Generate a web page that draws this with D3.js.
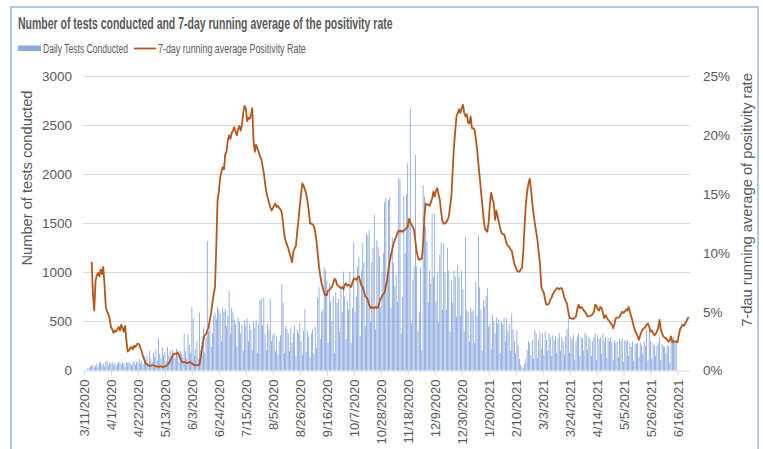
<!DOCTYPE html>
<html>
<head>
<meta charset="utf-8">
<script src="https://cdn.jsdelivr.net/npm/d3@7"></script>
<style>
  html, body { margin: 0; padding: 0; background: #ffffff; }
  svg { display: block; }
  text { font-family: "Liberation Sans", Arial, sans-serif; fill: #595959; }
</style>
</head>
<body>
<svg id="chart" width="763" height="449"></svg>
<script>
// ---------------- DATA ----------------
const startDate = "2020-03-11";
const dayCount = 472; // days 0..471 (3/11/2020 .. 6/25/2021)

const titleText = "Number of tests conducted and 7-day running average of the positivity rate";
const seriesNames = ["Daily Tests Conducted", "7-day running average Positivity Rate"];
const leftAxisTitle = "Number of tests conducted";
const rightAxisTitle = "7-dau running average of positivity rate";
const leftTicks = [0, 500, 1000, 1500, 2000, 2500, 3000];
const rightTicks = [0, 0.05, 0.10, 0.15, 0.20, 0.25];
const xTickEveryDays = 21;

// Daily tests conducted (one value per day from 3/11/2020, weekly rows)
const dailyTests = [
  0,0,0,20,30,40,50,
  60,30,50,70,40,80,90,
  60,70,40,90,100,50,80,
  70,90,60,80,50,70,90,
  80,60,90,70,40,85,75,
  90,70,50,80,100,60,90,
  85,120,70,100,60,140,110,
  150,80,200,120,90,180,140,
  210,100,330,170,120,230,160,
  190,90,240,150,200,110,210,
  180,130,220,160,90,200,170,
  140,380,200,120,370,260,180,
  650,530,150,220,300,120,590,
  210,350,440,180,330,1320,400,
  450,240,380,560,590,530,650,
  620,580,300,640,600,630,450,
  560,810,380,640,600,520,470,
  250,540,500,380,470,200,510,
  460,530,300,480,420,210,500,
  440,520,180,470,720,730,460,
  740,370,210,480,420,730,300,
  360,380,200,350,160,300,360,
  880,690,180,450,420,380,200,
  430,280,380,460,150,420,380,
  480,300,160,410,630,190,410,
  345,140,380,420,170,445,230,
  750,850,320,600,620,1050,1020,
  920,280,890,700,500,760,180,
  800,690,730,400,850,600,1010,
  760,320,700,620,1010,280,640,
  1310,600,750,1060,1160,350,1020,
  1300,1100,450,1400,1380,1430,500,
  1100,1250,1590,420,1330,1260,1160,
  650,1000,1200,1720,1760,980,1740,
  1770,640,1360,1100,860,980,700,
  1960,1950,380,750,1780,1200,1800,
  2115,1500,2675,480,920,1060,2200,
  1060,400,600,1050,210,1890,1775,
  1470,1320,700,1020,890,1600,950,
  1600,700,1010,490,1180,1310,620,
  1300,1000,620,1250,1020,400,920,
  690,1020,960,550,1080,950,560,
  1020,830,400,1365,620,600,300,
  640,600,620,280,900,560,1380,
  850,620,200,720,650,760,840,
  450,480,220,566,500,380,540,
  480,520,180,500,470,540,300,
  532,400,480,200,583,420,300,
  175,414,250,120,60,40,20,
  70,120,210,300,280,150,310,
  120,414,380,130,310,400,220,
  380,160,400,310,200,380,340,
  150,360,310,350,180,330,380,
  200,340,300,160,350,420,532,
  180,345,320,360,110,300,345,
  380,150,340,330,200,386,360,
  210,345,320,150,300,340,380,
  110,360,320,340,170,373,300,
  340,130,330,300,340,294,110,
  310,280,294,140,320,300,328,
  90,310,300,310,150,280,240,
  300,100,280,270,284,140,284,
  260,180,300,250,414,100,414,
  300,120,280,260,150,250,280,
  345,110,270,250,245,180,260,
  245,80,330,310,345,290,310,
  null,null,null,null,null,null,null,null,null,null
];

// 7-day running average positivity rate, in percent (one value per day from 3/11/2020)
const positivityRate = [
  null,null,null,null,null,null,9.25,6.5,5.1,7.6,
  8.1,8.3,8.0,8.6,8.2,8.8,7.3,5.4,5.0,4.8,
  4.4,3.7,3.5,3.2,3.4,3.3,3.5,3.7,3.4,3.9,
  3.6,3.3,3.8,2.6,1.6,1.7,1.9,2.0,1.8,2.1,
  2.0,2.2,2.3,2.2,1.9,1.6,1.2,0.9,0.6,0.5,
  0.45,0.4,0.4,0.45,0.45,0.4,0.35,0.35,0.3,0.35,
  0.35,0.3,0.3,0.35,0.4,0.5,0.6,0.8,1.0,1.3,
  1.4,1.45,1.4,1.55,1.3,1.0,0.75,0.7,0.7,0.7,
  0.65,0.65,0.7,0.7,0.6,0.5,0.45,0.45,0.45,0.45,
  0.5,1.2,2.0,2.6,3.0,3.1,3.4,3.7,4.3,4.9,
  5.8,6.5,7.1,10.5,14.5,15.2,16.4,16.9,17.3,17.1,
  18.4,18.6,19.6,20.0,19.7,20.2,20.4,20.7,20.3,20.0,
  20.5,20.8,20.4,20.9,21.9,22.5,22.3,21.2,21.5,21.4,
  21.7,22.3,19.5,18.6,19.2,18.9,18.6,18.2,18.0,17.4,
  16.8,15.9,15.2,14.7,14.3,13.9,13.6,13.8,14.0,14.2,
  13.9,14.0,13.8,13.7,13.4,12.5,11.5,11.0,10.7,10.4,
  10.0,9.6,9.2,10.1,10.4,10.6,11.8,12.8,14.0,15.0,
  15.9,15.7,15.4,15.0,14.4,13.6,12.5,12.5,12.4,12.3,
  11.8,11.0,9.9,8.8,8.0,7.4,7.0,6.6,6.4,6.4,
  6.8,6.85,7.0,7.1,7.4,7.8,7.7,7.3,7.2,7.1,
  7.0,7.1,6.9,7.3,7.4,7.2,7.3,7.2,7.1,7.5,
  7.8,7.8,7.7,7.9,8.0,7.6,7.2,7.1,6.7,6.3,
  6.2,6.0,5.6,5.3,5.4,5.3,5.3,5.4,5.3,5.4,
  5.8,6.1,6.3,6.5,6.6,7.2,7.6,8.6,9.3,9.8,
  10.3,10.8,11.1,11.4,11.7,11.9,11.8,11.9,11.8,11.9,
  12.0,12.1,12.2,12.9,12.6,12.4,12.2,11.9,11.0,10.1,
  9.6,9.4,9.5,9.5,10.8,13.0,14.2,14.1,14.1,14.0,
  14.3,14.6,15.2,14.8,15.3,15.5,15.0,14.5,13.5,12.7,
  12.5,12.5,12.6,12.8,13.1,13.9,14.8,17.0,19.0,20.4,
  21.6,21.9,22.2,21.9,22.3,22.6,21.9,21.6,21.8,21.1,
  21.0,21.6,20.6,20.6,20.5,19.7,18.8,17.6,16.5,15.3,
  14.2,13.0,12.1,11.9,11.8,12.6,14.2,15.1,14.6,14.2,
  12.8,13.6,13.1,12.6,12.1,11.7,11.6,11.6,11.2,10.8,
  10.6,10.5,10.3,10.2,9.6,9.1,8.8,8.5,8.4,8.4,
  8.6,8.7,10.2,12.3,14.2,15.2,15.9,16.3,15.4,14.2,
  13.3,12.5,11.8,11.1,10.0,9.1,7.1,6.8,6.6,6.0,
  5.6,5.6,5.7,6.0,6.2,6.5,6.7,6.85,7.0,7.0,
  6.9,7.0,7.0,6.6,6.2,5.9,5.7,5.0,4.45,4.45,
  4.4,4.4,4.5,4.6,5.2,5.6,5.3,5.4,5.3,5.1,
  5.0,4.8,4.6,4.6,4.65,4.7,4.8,5.0,5.6,5.5,
  5.2,5.1,5.4,5.3,4.9,4.45,4.7,4.5,4.3,4.2,
  4.0,3.9,3.6,4.0,4.45,4.5,4.5,4.6,4.8,5.0,
  4.9,5.0,5.2,5.1,5.4,5.0,4.6,4.2,3.7,3.4,
  3.15,2.9,2.6,3.0,3.3,3.5,3.6,3.7,3.9,4.0,
  3.7,3.3,3.4,3.2,3.0,3.1,3.3,3.6,4.3,3.5,
  3.15,2.9,2.8,2.75,2.6,2.45,2.6,2.9,2.4,2.5,
  2.45,2.45,2.4,3.0,3.5,3.7,3.9,3.8,4.0,4.2,
  4.45,4.5
];

// ---------------- CHART ----------------
const svg = d3.select("#chart");
const plot = { left: 83, right: 690, top: 76.5, bottom: 370.5 };

const parseDate = d3.utcParse("%Y-%m-%d");
const day0 = parseDate(startDate);
const dates = d3.range(dayCount).map(i => d3.utcDay.offset(day0, i));
const halfDay = 18 * 3600 * 1000;

const x = d3.scaleUtc()
  .domain([new Date(+dates[0] - halfDay), new Date(+dates[dayCount - 1] + halfDay)])
  .range([plot.left, plot.right]);
const yL = d3.scaleLinear().domain([0, 3000]).range([plot.bottom, plot.top]);
const yR = d3.scaleLinear().domain([0, 0.25]).range([plot.bottom, plot.top]);

// helper: narrow a text horizontally to a target width (condensed look of the reference font)
function condensedText(parent, str, opts) {
  const t = parent.append("text")
    .attr("text-anchor", opts.anchor || "start")
    .style("font-size", opts.size + "px")
    .style("font-weight", opts.weight || "normal")
    .text(str);
  const natural = t.node().getComputedTextLength();
  const sx = opts.width / natural;
  t.attr("transform", `translate(${opts.x},${opts.y}) rotate(${opts.rotate || 0}) scale(${sx},1)`);
  return t;
}

// outer frame
svg.append("rect")
  .attr("x", 11).attr("y", 7).attr("width", 747).attr("height", 470)
  .attr("fill", "none").attr("stroke", "#9db4dc").attr("stroke-width", 1.5);

// gridlines
svg.append("g")
  .selectAll("line").data(leftTicks.filter(t => t > 0)).join("line")
  .attr("x1", plot.left).attr("x2", plot.right)
  .attr("y1", d => yL(d)).attr("y2", d => yL(d))
  .attr("stroke", "#d9d9d9").attr("stroke-width", 1);

// bars
const barW = 0.8;
svg.append("g")
  .selectAll("rect")
  .data(dates.map((d, i) => ({ d, v: dailyTests[i] })).filter(o => o.v != null && o.v > 0))
  .join("rect")
  .attr("x", o => x(o.d) - barW / 2)
  .attr("width", barW)
  .attr("y", o => yL(o.v))
  .attr("height", o => yL(0) - yL(o.v))
  .attr("fill", "#7f9fdc");

// x axis
const tickDates = d3.range(0, dayCount, xTickEveryDays).map(i => dates[i]);
const xAxis = d3.axisBottom(x)
  .tickValues(tickDates)
  .tickSize(5)
  .tickFormat(d3.utcFormat("%-m/%-d/%Y"));
const gx = svg.append("g").attr("transform", `translate(0,${plot.bottom})`).call(xAxis);
gx.select(".domain").attr("stroke", "#d9d9d9").attr("d", `M${plot.left},0.5H${plot.right}`);
gx.selectAll(".tick line").attr("stroke", "#d9d9d9");
gx.selectAll(".tick text")
  .attr("transform", "rotate(-90)")
  .attr("text-anchor", "end")
  .attr("x", -9).attr("y", 0).attr("dy", "0.36em")
  .style("font-size", "13px")
  .style("font-family", "'Liberation Sans', Arial, sans-serif")
  .attr("fill", "#595959");

// left axis
const gl = svg.append("g").attr("transform", `translate(${plot.left},0)`)
  .call(d3.axisLeft(yL).tickValues(leftTicks).tickSize(0).tickPadding(11).tickFormat(d3.format("d")));
gl.select(".domain").remove();
gl.selectAll("text").style("font-size", "13.5px")
  .style("font-family", "'Liberation Sans', Arial, sans-serif").attr("fill", "#595959");

// right axis
const gr = svg.append("g").attr("transform", `translate(${plot.right},0)`)
  .call(d3.axisRight(yR).tickValues(rightTicks).tickSize(0).tickPadding(13).tickFormat(d3.format(".0%")));
gr.select(".domain").remove();
gr.selectAll("text").style("font-size", "13.5px")
  .style("font-family", "'Liberation Sans', Arial, sans-serif").attr("fill", "#595959");

// line
const line = d3.line()
  .defined(d => d.v != null)
  .x(d => x(d.d))
  .y(d => yR(d.v / 100));
svg.append("path")
  .datum(dates.map((d, i) => ({ d, v: positivityRate[i] })))
  .attr("d", line)
  .attr("fill", "none")
  .attr("stroke", "#b7561a")
  .attr("stroke-width", 1.8)
  .attr("stroke-linejoin", "round");

// axis titles
condensedText(svg, leftAxisTitle, { x: 32, y: 178, rotate: -90, anchor: "middle", size: 15, width: 175 });
condensedText(svg, rightAxisTitle, { x: 752, y: 200, rotate: -90, anchor: "middle", size: 15, width: 254 });

// title
condensedText(svg, titleText, { x: 18, y: 28.5, size: 16, weight: "bold", width: 375 });

// legend
const lg = svg.append("g");
lg.append("rect").attr("x", 18).attr("y", 45.5).attr("width", 23).attr("height", 5.5).attr("fill", "#8eaadb");
condensedText(lg, seriesNames[0], { x: 43, y: 53, size: 13.5, width: 85 });
lg.append("line").attr("x1", 134).attr("x2", 156).attr("y1", 48.5).attr("y2", 48.5)
  .attr("stroke", "#b7561a").attr("stroke-width", 1.8);
condensedText(lg, seriesNames[1], { x: 158, y: 53, size: 13.5, width: 148 });
</script>
</body>
</html>
